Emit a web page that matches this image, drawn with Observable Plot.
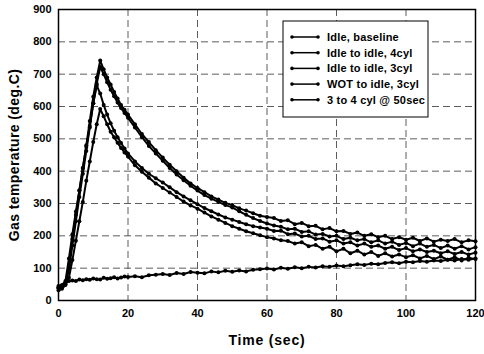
<!DOCTYPE html>
<html><head><meta charset="utf-8">
<script src="https://cdn.jsdelivr.net/npm/d3@7"></script>
<script src="https://cdn.jsdelivr.net/npm/@observablehq/plot@0.6"></script>
<style>
body{margin:0;background:#fff}
</style>
</head><body><div id="chart"></div>
<script>
const time = [0,1,2,3,4,5,6,7,8,9,10,11,12,13,14,15,16,17,18,19,20,
  22,24,26,28,30,32,34,36,38,40,42,44,46,48,50,52,54,56,58,
  60,62,64,66,68,70,72,74,76,78,80,82,84,86,88,90,92,94,96,98,100,102,104,106,108,110,112,114,116,118,120];

const seriesNames = ["Idle, baseline","Idle to idle, 4cyl","Idle to idle, 3cyl","WOT to idle, 3cyl","3 to 4 cyl @ 50sec"];

const idleBaseline = [40,45,55,60,62,60,65,63,66,64,68,66,65,70,67,69,72,68,71,74,73,
  75,72,78,80,82,79,85,82,88,86,84,90,87,92,89,93,90,95,97,
  99,96,101,98,103,100,104,102,106,104,108,106,109,112,110,114,112,116,118,115,120,118,122,120,124,122,126,124,128,126,130];

const idleToIdle4 = [45,48,60,130,205,275,340,410,475,540,610,665,640,605,575,548,525,505,487,470,455,
  430,410,392,378,365,350,335,322,310,298,286,276,266,257,250,243,236,230,226,
  222,215,216,205,207,198,200,190,192,182,186,176,180,170,176,166,170,160,166,156,162,152,158,150,154,146,152,144,150,142,148];

const idleToIdle3 = [40,42,50,70,125,185,245,305,370,430,490,545,592,570,545,522,505,488,472,458,445,
  418,398,380,362,348,334,320,306,294,284,272,260,250,240,230,222,214,208,202,
  196,192,186,184,176,180,168,172,160,166,152,160,146,154,142,150,138,146,136,142,134,140,130,138,128,136,126,134,124,132,128];

const wotToIdle3 = [38,42,55,110,190,265,340,410,480,555,630,690,742,715,690,668,645,625,605,590,575,
  545,515,490,465,442,420,400,380,362,348,335,322,312,302,295,285,278,270,262,
  258,255,246,248,236,240,230,231,220,224,214,215,206,210,200,205,196,200,190,196,188,194,184,192,182,188,184,190,180,186,183];

const threeToFour = [32,36,48,95,170,245,320,392,462,535,610,670,722,700,675,652,632,612,595,580,565,
  535,505,478,455,432,410,390,372,355,340,326,315,305,295,288,276,265,255,246,
  238,232,228,220,222,212,214,204,206,198,200,190,194,186,190,180,186,176,182,172,178,168,176,166,172,162,170,160,168,158,165];

const seriesValues = [idleBaseline, idleToIdle4, idleToIdle3, wotToIdle3, threeToFour];

const xTicks = [0,20,40,60,80,100,120];
const yTicks = [0,100,200,300,400,500,600,700,800,900];
const xLabel = "Time (sec)";
const yLabel = "Gas temperature (deg.C)";

const rows = [];
seriesNames.forEach((name, i) => seriesValues[i].forEach((v, j) => rows.push({series: name, t: time[j], v})));

const chart = Plot.plot({
  width: 484, height: 354,
  marginLeft: 58, marginRight: 9, marginTop: 9, marginBottom: 54,
  style: {fontFamily: "'Liberation Sans', Arial, sans-serif", fontSize: "11px", fontWeight: "bold", background: "#fff", color: "#000"},
  x: {domain: [0, 120], ticks: xTicks, tickSize: 0, tickPadding: 9, label: null},
  y: {domain: [0, 900], ticks: yTicks, tickSize: 0, tickPadding: 7, label: null},
  marks: [
    Plot.ruleX(xTicks.slice(1, -1), {stroke: "#333", strokeWidth: 0.8, strokeDasharray: "7,4"}),
    Plot.ruleY(yTicks.slice(1, -1), {stroke: "#333", strokeWidth: 0.8, strokeDasharray: "7,4"}),
    Plot.line(rows, {x: "t", y: "v", z: "series", stroke: "#000", strokeWidth: 2}),
    Plot.dot(rows, {x: "t", y: "v", r: 2, fill: "#000", stroke: "none"}),
    Plot.frame({stroke: "#000", strokeWidth: 1.5})
  ]
});
document.getElementById("chart").appendChild(chart);

const svg = d3.select(chart);
const font = "'Liberation Sans', Arial, sans-serif";
svg.append("text").attr("x", 267).attr("y", 345).attr("text-anchor", "middle")
  .style("font", `bold 14px ${font}`).style("letter-spacing", "0.8px").text(xLabel);
svg.append("text").attr("transform", "translate(19,155) rotate(-90)").attr("text-anchor", "middle")
  .style("font", `bold 14px ${font}`).style("letter-spacing", "0.4px").text(yLabel);

const lg = svg.append("g");
lg.append("rect").attr("x", 283).attr("y", 21).attr("width", 145).attr("height", 96)
  .attr("fill", "#fff").attr("stroke", "#000").attr("stroke-width", 1);
seriesNames.forEach((name, i) => {
  const y = 37 + i * 15.7;
  lg.append("line").attr("x1", 292).attr("x2", 318).attr("y1", y).attr("y2", y).attr("stroke", "#000").attr("stroke-width", 1.5);
  lg.append("circle").attr("cx", 292).attr("cy", y).attr("r", 1.8).attr("fill", "#000");
  lg.append("circle").attr("cx", 318).attr("cy", y).attr("r", 1.8).attr("fill", "#000");
  lg.append("text").attr("x", 327).attr("y", y).attr("dy", "0.35em").attr("text-anchor", "start")
    .style("font", `bold 11px ${font}`).style("letter-spacing", "0.2px").text(name);
});
</script>
</body></html>
